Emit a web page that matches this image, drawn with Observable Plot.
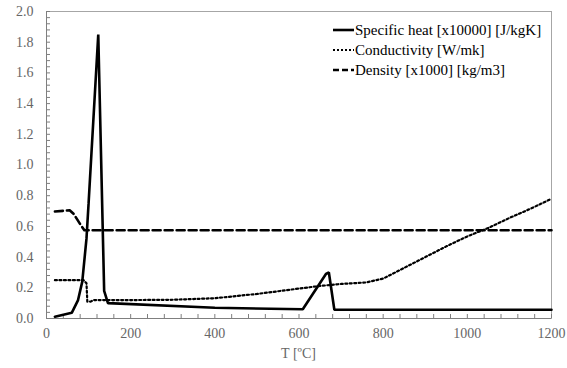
<!DOCTYPE html>
<html><head><meta charset="utf-8">
<script src="https://cdn.jsdelivr.net/npm/d3@7"></script>
<script src="https://cdn.jsdelivr.net/npm/@observablehq/plot@0.6"></script>
<style>
body{margin:0;background:#fff}
#chart svg text{font-family:"Liberation Serif","Times New Roman",serif !important;}
</style>
</head><body><div id="chart"></div>
<script>
const xTicks = [0, 200, 400, 600, 800, 1000, 1200];
const yTicks = [0, 0.2, 0.4, 0.6, 0.8, 1.0, 1.2, 1.4, 1.6, 1.8, 2.0];
const xLabel = "T [ºC]";
const seriesNames = ["Specific heat [x10000] [J/kgK]", "Conductivity [W/mk]", "Density [x1000] [kg/m3]"];

// Specific heat [x10000]
const shT = [20, 60, 75, 85, 95, 100, 123, 137, 146, 400, 609, 664, 671, 684, 1200];
const shV = [0.012, 0.037, 0.12, 0.24, 0.52, 0.75, 1.85, 0.18, 0.10, 0.07, 0.06, 0.29, 0.30, 0.057, 0.057];

// Conductivity
const kT = [20, 88, 95, 97, 105, 112, 200, 300, 400, 500, 600, 650, 700, 760, 800, 850, 900, 950, 1000, 1050, 1100, 1150, 1200];
const kV = [0.25, 0.25, 0.23, 0.11, 0.11, 0.12, 0.12, 0.122, 0.132, 0.16, 0.195, 0.212, 0.225, 0.235, 0.26, 0.33, 0.40, 0.47, 0.535, 0.59, 0.655, 0.715, 0.78];

// Density [x1000]
const rhoT = [20, 55, 65, 80, 90, 1200];
const rhoV = [0.697, 0.705, 0.68, 0.615, 0.575, 0.575];

const toRows = (ts, vs) => ts.map((t, i) => ({t, v: vs[i]}));
const sh = toRows(shT, shV), k = toRows(kT, kV), rho = toRows(rhoT, rhoV);

const W = 567, H = 368, mL = 46, mR = 16, mT = 11, mB = 50;
const innerW = W - mL - mR, innerH = H - mT - mB;
const xMinor = d3.range(0, 1201, 40);
const yMinor = d3.range(0, 2.0001, 0.04);
const axisColor = "#7f7f7f";
const lbl = "#666";
const tickLen = 4;

const chart = Plot.plot({
  width: W, height: H,
  marginLeft: mL, marginRight: mR, marginTop: mT, marginBottom: mB,
  style: {fontFamily: "Liberation Serif, serif", background: "#fff"},
  x: {domain: [0, 1200]},
  y: {domain: [0, 2]},
  marks: [
    Plot.frame({stroke: "#a6a6a6"}),
    Plot.ruleX(xMinor, {x: d => d, insetTop: innerH - tickLen, stroke: axisColor}),
    Plot.ruleY(yMinor, {y: d => d, insetRight: innerW - tickLen, stroke: axisColor}),
    Plot.ruleY([0], {stroke: axisColor}),
    Plot.ruleX([0], {stroke: axisColor}),
    Plot.line(rho, {x: "t", y: "v", stroke: "black", strokeWidth: 2.6, strokeDasharray: "8,4"}),
    Plot.line(k, {x: "t", y: "v", stroke: "black", strokeWidth: 2.2, strokeDasharray: "2,2.5"}),
    Plot.line(sh, {x: "t", y: "v", stroke: "black", strokeWidth: 2.6, strokeLinejoin: "miter"}),
    Plot.axisX(xTicks, {tickSize: 0, tickPadding: 10, fontSize: 14, color: lbl, label: null, tickFormat: d => String(d)}),
    Plot.axisY(yTicks, {tickSize: 0, tickPadding: 13, fontSize: 14, color: lbl, label: null, tickFormat: d3.format(".1f")})
  ]
});
document.getElementById("chart").appendChild(chart);

const svg = d3.select(chart);
const xs = chart.scale("x");
svg.append("text")
  .attr("x", (xs.range[0] + xs.range[1]) / 2).attr("y", 358)
  .attr("text-anchor", "middle").attr("fill", lbl)
  .style("font-size", "14px")
  .text(xLabel);

const legendStyles = [
  {dash: null, w: 2.6},
  {dash: "2,2", w: 2},
  {dash: "6,3", w: 2.6}
];
const lg = svg.append("g").attr("text-anchor", "start");
seriesNames.forEach((name, i) => {
  const y = 30 + i * 20;
  const ln = lg.append("line").attr("x1", 333).attr("x2", 354).attr("y1", y).attr("y2", y)
    .attr("stroke", "black").attr("stroke-width", legendStyles[i].w);
  if (legendStyles[i].dash) ln.attr("stroke-dasharray", legendStyles[i].dash);
  lg.append("text").attr("x", 355).attr("y", y).attr("dy", "0.35em")
    .attr("text-anchor", "start")
    .attr("fill", "black").style("font-size", "15px")
    .text(name);
});
</script>
</body></html>
